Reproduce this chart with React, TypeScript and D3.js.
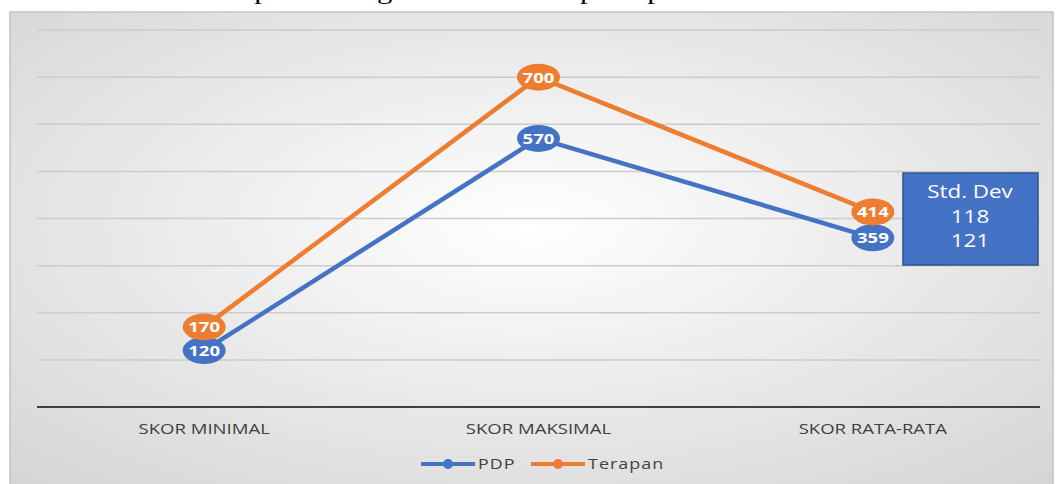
import React, { useEffect, useRef } from "react";
import * as d3 from "d3";

const categories = ["SKOR MINIMAL", "SKOR MAKSIMAL", "SKOR RATA-RATA"];
const pdpValues = [120, 570, 359];
const terapanValues = [170, 700, 414];
const seriesNames = ["PDP", "Terapan"];
const stdDevLabel = "Std. Dev";
const stdDevValues = ["118", "121"];
const yTicks = [100, 200, 300, 400, 500, 600, 700, 800];

// the reference picture is stretched sideways a little, so text is too
const SX = 1.28;

const App: React.FC = () => {
  const svgRef = useRef<SVGSVGElement>(null);

  useEffect(() => {
    const width = 1059;
    const height = 484;
    const left = 37;
    const right = 1040;
    const top = 30;
    const bottom = 407;

    const svg = d3.select(svgRef.current);
    svg.selectAll("*").remove();

    const stretched = (sel: d3.Selection<SVGTextElement, any, any, any>, x: (d: any, i: number) => number, y: (d: any, i: number) => number) =>
      sel.attr("transform", (d, i) => `translate(${x(d, i)},${y(d, i)}) scale(${SX},1)`);

    // background gradient of the chart area
    const defs = svg.append("defs");
    const grad = defs.append("radialGradient")
      .attr("id", "bg")
      .attr("cx", "50%").attr("cy", "45%").attr("r", "75%");
    grad.append("stop").attr("offset", "0%").attr("stop-color", "#ffffff");
    grad.append("stop").attr("offset", "100%").attr("stop-color", "#d4d4d4");

    // caption above the chart, cut off by the page top (only descenders show)
    svg.append("text")
      .attr("transform", `translate(530,-1) scale(${SX},1)`)
      .attr("text-anchor", "middle")
      .attr("font-family", "Liberation Serif, serif")
      .attr("font-size", 24)
      .attr("fill", "#000")
      .text("Grafik perbandingan skor kemampuan pemecahan masalah");

    svg.append("rect")
      .attr("x", 10).attr("y", 12)
      .attr("width", width - 16).attr("height", height - 8)
      .attr("fill", "url(#bg)")
      .attr("stroke", "#c4c4c4")
      .attr("stroke-width", 1.5);

    const x = d3.scaleBand().domain(categories).range([left, right]);
    const y = d3.scaleLinear().domain([0, 800]).range([bottom, top]);

    // gridlines
    svg.append("g")
      .selectAll("line")
      .data(yTicks)
      .join("line")
      .attr("x1", left).attr("x2", right)
      .attr("y1", (d) => y(d)).attr("y2", (d) => y(d))
      .attr("stroke", "#cccccc")
      .attr("stroke-width", 1.5);

    // category axis
    svg.append("line")
      .attr("x1", left).attr("x2", right)
      .attr("y1", y(0)).attr("y2", y(0))
      .attr("stroke", "#404040")
      .attr("stroke-width", 2);

    stretched(
      svg.append("g")
        .selectAll("text")
        .data(categories)
        .join("text")
        .attr("text-anchor", "middle")
        .attr("font-family", "Open Sans, sans-serif")
        .attr("font-size", 14.5)
        .attr("fill", "#404040")
        .text((d) => d),
      (d) => x(d)! + x.bandwidth() / 2,
      () => 434
    );

    const cx = (i: number) => x(categories[i])! + x.bandwidth() / 2;
    const line = d3.line<number>().x((_, i) => cx(i)).y((d) => y(d));

    const series = [
      { name: seriesNames[0], values: pdpValues, color: "#4472C4" },
      { name: seriesNames[1], values: terapanValues, color: "#ED7D31" },
    ];

    series.forEach((s) => {
      svg.append("path")
        .attr("d", line(s.values)!)
        .attr("fill", "none")
        .attr("stroke", s.color)
        .attr("stroke-width", 4.5)
        .attr("stroke-linejoin", "round");
    });

    series.forEach((s) => {
      const g = svg.append("g");
      g.selectAll("ellipse")
        .data(s.values)
        .join("ellipse")
        .attr("cx", (_, i) => cx(i))
        .attr("cy", (d) => y(d))
        .attr("rx", 21.5).attr("ry", 13.5)
        .attr("fill", s.color);
      stretched(
        g.selectAll("text")
          .data(s.values)
          .join("text")
          .attr("text-anchor", "middle")
          .attr("font-family", "Open Sans, sans-serif")
          .attr("font-weight", "bold")
          .attr("font-size", 14.5)
          .attr("fill", "#fff")
          .text((d) => d),
        (_, i) => cx(i),
        (d) => y(d) + 5.5
      );
    });

    // std dev box
    svg.append("rect")
      .attr("x", 903).attr("y", 173)
      .attr("width", 135).attr("height", 92)
      .attr("fill", "#4472C4")
      .attr("stroke", "#2F528F")
      .attr("stroke-width", 1.5);
    const boxLines = [stdDevLabel, ...stdDevValues];
    stretched(
      svg.append("g")
        .selectAll("text")
        .data(boxLines)
        .join("text")
        .attr("text-anchor", "middle")
        .attr("font-family", "Open Sans, sans-serif")
        .attr("font-size", 17.5)
        .attr("fill", "#fff")
        .text((d) => d),
      () => 970,
      (_, i) => 198 + i * 24.5
    );

    // legend
    const legendX = [421, 531];
    series.forEach((s, i) => {
      const lx = legendX[i];
      svg.append("line")
        .attr("x1", lx).attr("x2", lx + 54)
        .attr("y1", 464).attr("y2", 464)
        .attr("stroke", s.color).attr("stroke-width", 4);
      svg.append("circle")
        .attr("cx", lx + 27).attr("cy", 464).attr("r", 5)
        .attr("fill", s.color);
      svg.append("text")
        .attr("transform", `translate(${lx + 57},469) scale(${SX},1)`)
        .attr("font-family", "Open Sans, sans-serif")
        .attr("font-size", 14)
        .attr("letter-spacing", 0.8)
        .attr("fill", "#404040")
        .text(s.name);
    });
  }, []);

  return (
    <div style={{ position: "absolute", left: 0, top: 0 }}>
      <svg ref={svgRef} width={1059} height={484} style={{ display: "block" }}></svg>
    </div>
  );
};

export default App;
